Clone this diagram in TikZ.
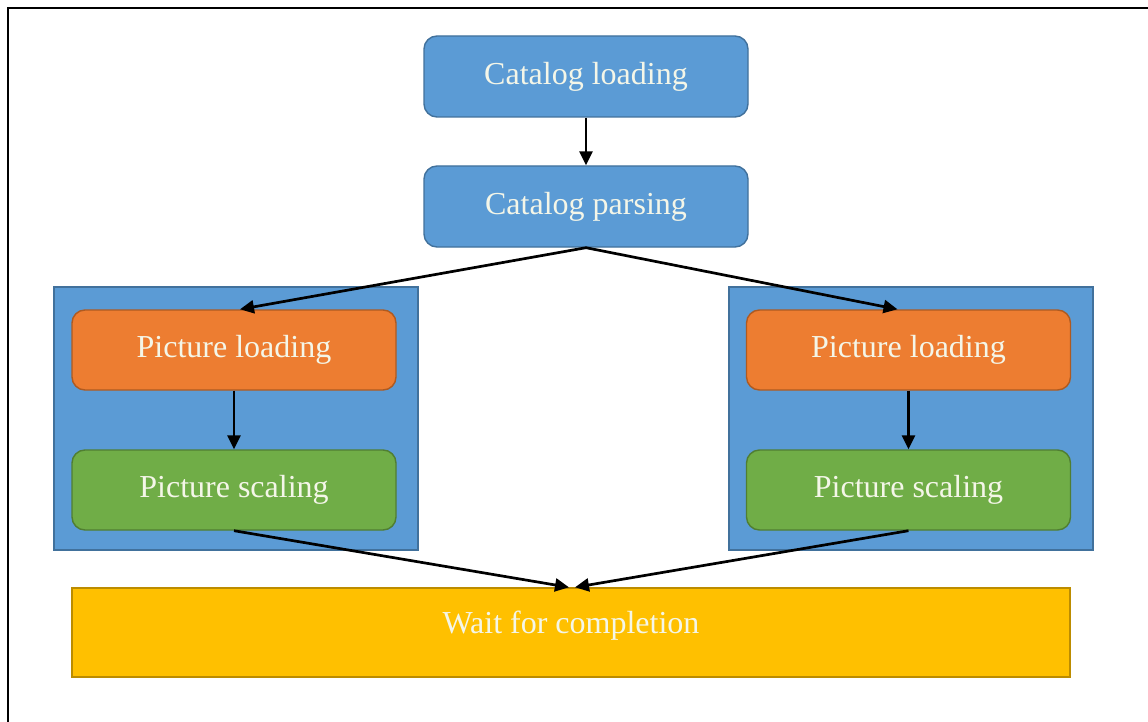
\documentclass[tikz,border=0pt]{standalone}
\usepackage{fontspec}
\setmainfont{Liberation Serif}
\usetikzlibrary{arrows.meta}
\definecolor{bblue}{HTML}{5B9BD5}
\definecolor{bblueline}{HTML}{41719C}
\definecolor{borange}{HTML}{ED7D31}
\definecolor{borangeline}{HTML}{AE5A21}
\definecolor{bgreen}{HTML}{70AD47}
\definecolor{bgreenline}{HTML}{507E32}
\definecolor{byellow}{HTML}{FFC000}
\definecolor{byellowline}{HTML}{BC8C00}
\definecolor{txt}{HTML}{F4F6E8}
\tikzset{
  boxbase/.style={rectangle, line width=1.4pt, text=txt, inner sep=0pt,
    font=\fontsize{32}{37}\selectfont},
  catbox/.style={boxbase, rounded corners=13pt, fill=bblue, draw=bblueline,
    minimum width=324pt, minimum height=81pt},
  loadbox/.style={boxbase, rounded corners=13pt, fill=borange, draw=borangeline,
    minimum width=324pt, minimum height=80pt},
  scalebox/.style={boxbase, rounded corners=13pt, fill=bgreen, draw=bgreenline,
    minimum width=324pt, minimum height=80pt},
  groupbox/.style={rectangle, fill=bblue, draw=bblueline, line width=1.4pt,
    minimum width=364pt, minimum height=263pt, inner sep=0pt},
  waitbox/.style={boxbase, fill=byellow, draw=byellowline,
    minimum width=998pt, minimum height=89pt},
  arr/.style={line width=2.7pt, black, -{Triangle[length=14pt,width=13pt]}},
}
\begin{document}
\begin{tikzpicture}[x=1pt,y=-1pt]
\useasboundingbox (0,0) rectangle (1148,722);
\fill[white] (0,0) rectangle (1148,722);
\draw[line width=2pt] (8,722) -- (8,8) -- (1148,8);

\node[catbox] (cl) at (586,76.5) {\raisebox{6pt}{Catalog loading}};
\node[catbox] (cp) at (586,206.5) {\raisebox{6pt}{Catalog parsing}};

\node[groupbox] (lg) at (236,418.5) {};
\node[groupbox] (rg) at (911,418.5) {};

\node[loadbox] (lo) at (234,350) {\raisebox{3pt}{Picture loading}};
\node[scalebox] (ls) at (234,490) {\raisebox{3pt}{Picture scaling}};
\node[loadbox] (ro) at (908.5,350) {\raisebox{3pt}{Picture loading}};
\node[scalebox] (rs) at (908.5,490) {\raisebox{3pt}{Picture scaling}};

\node[waitbox] (wt) at (571,632.5) {\raisebox{20pt}{Wait for completion}};

\draw[arr] (cl) -- (cp);
\draw[arr] (cp.south) -- ([xshift=6pt]lo.north);
\draw[arr] (cp.south) -- ([xshift=-11pt]ro.north);
\draw[arr] (lo) -- (ls);
\draw[arr] (ro) -- (rs);
\draw[arr] (ls.south) -- ([xshift=-2pt]wt.north);
\draw[arr] (rs.south) -- ([xshift=4pt]wt.north);
\end{tikzpicture}
\end{document}
